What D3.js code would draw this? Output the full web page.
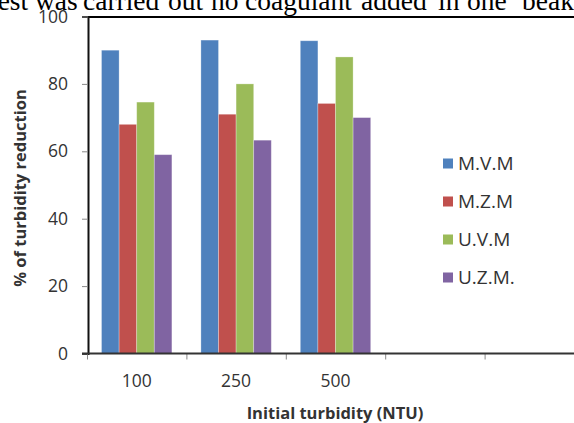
<!DOCTYPE html>
<html>
<head>
<meta charset="utf-8">
<script src="https://cdn.jsdelivr.net/npm/d3@7"></script>
<style>
  body { margin: 0; background: #fff; }
  svg { display: block; }
</style>
</head>
<body>
<svg width="574" height="423"></svg>
<script>
// chart data
const categories = ["100", "250", "500", "", ""];
const seriesNames = ["M.V.M", "M.Z.M", "U.V.M", "U.Z.M."];
const mvm = [90, 93, 92.8];
const mzm = [68, 71, 74.2];
const uvm = [74.6, 80, 88];
const uzm = [59, 63.3, 70];
const yTicks = [0, 20, 40, 60, 80, 100];
const colors = ["#4F81BD", "#C0504D", "#9BBB59", "#8064A2"];
const captionWords = ["test", "was", "carried", "out", "no", "coagulant", "added", "in", "one", "beaker"];

const series = [mvm, mzm, uvm, uzm];
const svg = d3.select("svg");
const font = "'Open Sans', sans-serif";

const plotLeft = 88, plotRight = 584, plotTop = 16.5, plotBottom = 353.5;

const x0 = d3.scaleBand()
    .domain(d3.range(categories.length))
    .range([plotLeft - 1, plotRight])
    .paddingInner(0.292)
    .paddingOuter(0.146);
const x1 = d3.scaleBand()
    .domain(d3.range(seriesNames.length))
    .range([0, x0.bandwidth()]);
const y = d3.scaleLinear().domain([0, 100]).range([plotBottom, plotTop]);

// caption text cut off above the chart (justified line of the page)
const wordX = [-10, 35, 83, 168, 211, 245, 361, 438, 467, 522];
svg.append("text")
    .attr("y", 9.5)
    .attr("font-family", "'Liberation Serif', serif")
    .attr("font-size", 27.5)
    .attr("fill", "#000")
    .selectAll("tspan")
    .data(captionWords)
    .join("tspan")
    .attr("x", (d, i) => wordX[i])
    .text(d => d);

// bars
const groups = svg.append("g").selectAll("g")
    .data(d3.range(3))
    .join("g")
    .attr("transform", i => `translate(${x0(i)},0)`);

groups.selectAll("rect")
    .data(i => series.map((s, k) => ({ k: k, v: s[i] })))
    .join("rect")
    .attr("x", d => x1(d.k))
    .attr("width", x1.bandwidth())
    .attr("y", d => y(d.v))
    .attr("height", d => plotBottom - y(d.v))
    .attr("fill", d => colors[d.k])
    .attr("stroke", "#fff")
    .attr("stroke-opacity", 0.35)
    .attr("stroke-width", 0.8);

// top border line
svg.append("line")
    .attr("x1", plotLeft - 6).attr("x2", 574)
    .attr("y1", plotTop + 0.5).attr("y2", plotTop + 0.5)
    .attr("stroke", "#000").attr("stroke-width", 2);

// y axis
const yAxis = svg.append("g")
    .attr("transform", `translate(${plotLeft},0)`)
    .call(d3.axisLeft(y).tickValues(yTicks).tickSize(6).tickPadding(14));
yAxis.select(".domain").attr("stroke", "#111").attr("stroke-width", 2);
yAxis.selectAll(".tick line").attr("stroke", "#888");
yAxis.selectAll(".tick text")
    .attr("font-family", font).attr("font-size", 17.5).attr("fill", "#333");

// x axis: tick marks at band edges, labels at band centres
const xEdge = d3.scaleLinear().domain([0, categories.length]).range([plotLeft - 1, plotRight]);
const xTicks = svg.append("g")
    .attr("transform", `translate(0,${plotBottom})`)
    .call(d3.axisBottom(xEdge).ticks(categories.length).tickSize(6).tickFormat(""));
xTicks.select(".domain").remove();
xTicks.selectAll(".tick line").attr("stroke", "#888");

svg.append("line")
    .attr("x1", plotLeft - 6).attr("x2", 574)
    .attr("y1", plotBottom).attr("y2", plotBottom)
    .attr("stroke", "#333").attr("stroke-width", 2);

const xLabels = svg.append("g")
    .attr("transform", `translate(0,${plotBottom})`)
    .call(d3.axisBottom(x0).tickSize(0).tickPadding(21).tickFormat(i => categories[i]));
xLabels.select(".domain").remove();
xLabels.selectAll(".tick text")
    .attr("font-family", font).attr("font-size", 17.5).attr("fill", "#333");

// axis titles
svg.append("text")
    .attr("x", 335).attr("y", 419)
    .attr("text-anchor", "middle")
    .attr("font-family", font).attr("font-size", 16.5).attr("font-weight", "bold")
    .attr("fill", "#333")
    .text("Initial turbidity (NTU)");

svg.append("text")
    .attr("transform", "translate(26,188) rotate(-90)")
    .attr("text-anchor", "middle")
    .attr("font-family", font).attr("font-size", 16.5).attr("font-weight", "bold")
    .attr("fill", "#333")
    .text("% of turbidity reduction");

// legend
const legend = svg.append("g").selectAll("g")
    .data(seriesNames)
    .join("g")
    .attr("transform", (d, i) => `translate(443,${163.5 + i * 38})`);
legend.append("rect")
    .attr("x", 0).attr("y", -5).attr("width", 10).attr("height", 10)
    .attr("fill", (d, i) => colors[i]);
legend.append("text")
    .attr("x", 15).attr("y", 0).attr("dy", "0.36em")
    .attr("font-family", font).attr("font-size", 19).attr("fill", "#333")
    .text(d => d);
</script>
</body>
</html>
